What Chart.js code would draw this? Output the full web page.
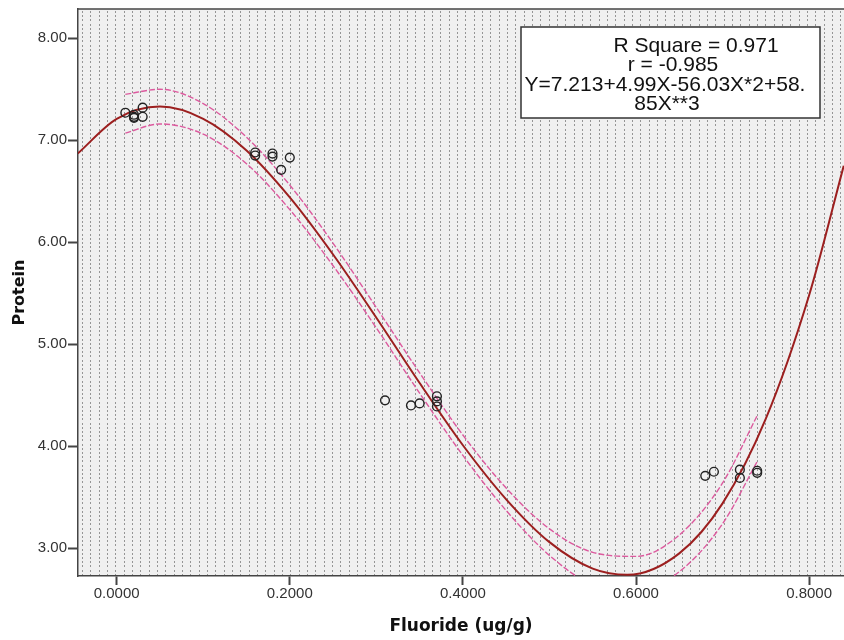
<!DOCTYPE html>
<html>
<head>
<meta charset="utf-8">
<script src="https://cdn.jsdelivr.net/npm/chart.js@4.4.1/dist/chart.umd.min.js"></script>
<style>
  html, body { margin: 0; padding: 0; background: #fff; }
</style>
</head>
<body>
<canvas id="chart" width="844" height="640"></canvas>
<script>
const fluoride = [0.01, 0.02, 0.02, 0.02, 0.03, 0.03, 0.16, 0.16, 0.18, 0.18, 0.19, 0.20,
  0.31, 0.34, 0.35, 0.37, 0.37, 0.37, 0.68, 0.69, 0.72, 0.72, 0.74, 0.74];
const protein = [7.27, 7.25, 7.22, 7.23, 7.32, 7.23, 6.88, 6.85, 6.87, 6.84, 6.71, 6.83,
  4.45, 4.40, 4.42, 4.49, 4.44, 4.39, 3.71, 3.75, 3.77, 3.69, 3.76, 3.74];

// cubic fit line
const fitX = [-0.045, 0, 0.05, 0.1, 0.15, 0.2, 0.25, 0.3, 0.35, 0.4, 0.45, 0.5, 0.55, 0.59, 0.65, 0.7, 0.75, 0.8, 0.84];
const fitY = [6.87, 7.21, 7.33, 7.21, 6.90, 6.44, 5.88, 5.26, 4.62, 4.01, 3.48, 3.06, 2.80, 2.74, 2.95, 3.44, 4.27, 5.48, 6.75];

// confidence band of the mean
const bandX = [0.01, 0.05, 0.1, 0.15, 0.2, 0.25, 0.3, 0.35, 0.4, 0.45, 0.5, 0.55, 0.6, 0.65, 0.7, 0.74];
const bandUpper = [7.45, 7.50, 7.36, 7.03, 6.56, 5.99, 5.36, 4.72, 4.11, 3.59, 3.19, 2.96, 2.92, 3.13, 3.64, 4.30];
const bandLower = [7.07, 7.16, 7.06, 6.77, 6.32, 5.77, 5.16, 4.52, 3.91, 3.37, 2.93, 2.64, 2.58, 2.77, 3.24, 3.85];

const xTicks = [0, 0.2, 0.4, 0.6, 0.8];
const yTicks = [3, 4, 5, 6, 7, 8];
const fitSummary = ['R Square = 0.971', 'r = -0.985', 'Y=7.213+4.99X-56.03X*2+58.', '85X**3'];

const pts = (xs, ys) => xs.map((x, i) => ({ x: x, y: ys[i] }));

const tickFont = { family: '"Liberation Sans", Arial, sans-serif', size: 15, lineHeight: 1 };
const titleFont = { family: '"DejaVu Sans", Verdana, sans-serif', weight: 'bold', lineHeight: 1.2 };

// dotted grey fill behind the plot, like the SPSS chart frame
const plotBackground = {
  id: 'plotBackground',
  beforeDraw(chart) {
    const { ctx, chartArea: a } = chart;
    ctx.save();
    ctx.fillStyle = '#f0f0f0';
    ctx.fillRect(a.left, a.top, a.right - a.left, a.bottom - a.top);
    ctx.fillStyle = '#959595';
    for (let x = a.left + 4; x < a.right - 1; x += 25 / 3) {
      for (let y = a.top + 2; y < a.bottom - 1; y += 4.2) {
        ctx.fillRect(Math.round(x), Math.round(y), 1, 2);
      }
    }
    ctx.restore();
  }
};

// top frame edge + the fit summary box
const fitBox = {
  id: 'fitBox',
  afterDraw(chart) {
    const { ctx, chartArea: a } = chart;
    ctx.save();
    ctx.strokeStyle = '#444';
    ctx.lineWidth = 1.5;
    ctx.beginPath();
    ctx.moveTo(a.left, a.top);
    ctx.lineTo(a.right, a.top);
    ctx.stroke();

    ctx.fillStyle = '#fff';
    ctx.fillRect(521, 27, 299, 91);
    ctx.strokeStyle = '#333';
    ctx.strokeRect(521, 27, 299, 91);

    const cx = [696, 673, 665, 667];
    const cy = [46, 65.5, 85.5, 104];
    ctx.fillStyle = '#111';
    ctx.font = '21px "Liberation Sans", Arial, sans-serif';
    ctx.textAlign = 'center';
    ctx.textBaseline = 'middle';
    fitSummary.forEach((t, i) => ctx.fillText(t, cx[i], cy[i]));
    ctx.restore();
  }
};

new Chart(document.getElementById('chart'), {
  type: 'scatter',
  data: {
    datasets: [
      {
        label: 'Observed',
        data: pts(fluoride, protein),
        showLine: false,
        pointRadius: 4.4,
        pointBorderWidth: 1.4,
        pointBorderColor: '#222',
        pointBackgroundColor: 'rgba(0,0,0,0)'
      },
      {
        label: 'Cubic',
        data: pts(fitX, fitY),
        showLine: true,
        borderColor: '#9c1f1f',
        borderWidth: 2,
        pointRadius: 0,
        cubicInterpolationMode: 'monotone'
      },
      {
        label: 'Upper',
        data: pts(bandX, bandUpper),
        showLine: true,
        borderColor: '#dc5a9e',
        borderWidth: 1.4,
        borderDash: [6, 2],
        pointRadius: 0,
        cubicInterpolationMode: 'monotone'
      },
      {
        label: 'Lower',
        data: pts(bandX, bandLower),
        showLine: true,
        borderColor: '#dc5a9e',
        borderWidth: 1.4,
        borderDash: [6, 2],
        pointRadius: 0,
        cubicInterpolationMode: 'monotone'
      }
    ]
  },
  options: {
    responsive: false,
    animation: false,
    devicePixelRatio: 1,
    layout: { autoPadding: false, padding: { top: 9, left: 0, right: 0, bottom: 0 } },
    plugins: { legend: { display: false }, tooltip: { enabled: false } },
    scales: {
      x: {
        type: 'linear',
        min: -0.0447,
        max: 0.8403,
        afterBuildTicks: s => { s.ticks = xTicks.map(v => ({ value: v })); },
        afterFit: s => { s.height = 64; s.paddingLeft = 0; s.paddingRight = 0; },
        grid: { drawOnChartArea: false, drawTicks: true, tickLength: 9, tickWidth: 2, tickColor: '#444' },
        border: { display: true, color: '#444', width: 1.5 },
        ticks: { padding: 1, color: '#333', font: tickFont, maxRotation: 0, callback: v => v.toFixed(4) },
        title: { display: true, text: 'Fluoride (ug/g)', color: '#111', font: Object.assign({ size: 17 }, titleFont), padding: { top: 0, bottom: 3 } }
      },
      y: {
        type: 'linear',
        min: 2.728,
        max: 8.287,
        afterBuildTicks: s => { s.ticks = yTicks.map(v => ({ value: v })); },
        afterFit: s => { s.width = 78; s.paddingTop = 0; s.paddingBottom = 0; },
        grid: { drawOnChartArea: false, drawTicks: true, tickLength: 10, tickWidth: 2, tickColor: '#444' },
        border: { display: true, color: '#444', width: 1.5 },
        ticks: { padding: 1, color: '#333', font: tickFont, callback: v => v.toFixed(2) },
        title: { display: true, text: 'Protein', color: '#111', font: Object.assign({ size: 16 }, titleFont), padding: { top: 10, bottom: 0 } }
      }
    }
  },
  plugins: [plotBackground, fitBox]
});
</script>
</body>
</html>
